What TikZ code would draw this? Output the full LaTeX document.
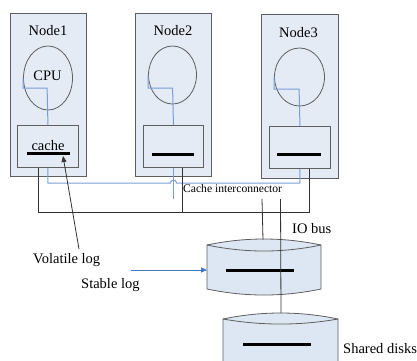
\documentclass[tikz,border=0pt]{standalone}
\usepackage{fontspec}
\setmainfont{Liberation Serif}
\newfontfamily\labelfont{Liberation Serif}
\usetikzlibrary{arrows.meta,shapes.geometric}
\definecolor{boxfill}{RGB}{229,235,245}
\definecolor{diskfill}{RGB}{221,230,243}
\definecolor{edgegray}{RGB}{95,95,95}
\definecolor{linkblue}{RGB}{120,158,215}
\definecolor{arrowblue}{RGB}{70,118,200}
\begin{document}
\begin{tikzpicture}[x=1pt,y=-1pt,
  nodebox/.style={draw=edgegray,fill=boxfill,line width=0.9pt,inner sep=0pt,anchor=north west},
  cachebox/.style={draw=edgegray,fill=boxfill,line width=0.9pt,inner sep=0pt,anchor=north west},
  cpu/.style={ellipse,draw=edgegray,line width=0.8pt,inner sep=0pt},
  lbl/.style={inner sep=0pt,font=\labelfont\fontsize{14.5}{16}\selectfont},
  small/.style={inner sep=0pt,font=\labelfont\fontsize{11.6}{13}\selectfont},
  bar/.style={line width=3pt,black},
  link/.style={draw=linkblue,line width=1pt},
  bus/.style={draw=black!80,line width=0.8pt},
  disk/.style={draw=edgegray,fill=diskfill,line width=0.8pt}]
\useasboundingbox (0,0) rectangle (417,360);

% ---- compute nodes ----
\node[nodebox,minimum width=76pt,minimum height=163pt] (n1) at (10,13) {};
\node[nodebox,minimum width=76pt,minimum height=163pt] (n2) at (135,13) {};
\node[nodebox,minimum width=77pt,minimum height=164pt] (n3) at (261,14) {};

\node[lbl,anchor=base] (t1) at (48,35) {Node1};
\node[lbl,anchor=base] (t2) at (173,35) {Node2};
\node[lbl,anchor=base] (t3) at (298.5,37.5) {Node3};

\node[cpu,minimum width=49pt,minimum height=64pt] (c1) at (48,78) {};
\node[lbl,anchor=base] (cpu) at (47.5,80) {CPU};
\node[cpu,minimum width=48pt,minimum height=58pt] (c2) at (172.5,75) {};
\node[cpu,minimum width=50pt,minimum height=58pt] (c3) at (299.5,77) {};

\node[cachebox,minimum width=61pt,minimum height=42pt] (k1) at (17,125) {};
\node[cachebox,minimum width=60pt,minimum height=42pt] (k2) at (143,125) {};
\node[cachebox,minimum width=61pt,minimum height=42pt] (k3) at (269,126) {};
\node[lbl,anchor=base] (ct) at (48,150) {cache};

\draw[bar] (27,153) -- (70,153);
\draw[bar] (152,154) -- (194,154);
\draw[bar] (277,154) -- (321,154);

% CPU to cache links
\draw[link] (c1.west) |- ++(24,10) -- (k1.north);
\draw[link] (c2.west) |- ++(24.5,13) -- (k2.north);
\draw[link] (c3.west) |- ++(25,12) -- (k3.north);

% cache interconnector (blue) with a hop over the Node2 line
\coordinate (cil) at (0,183);
\draw[link] (k1.south) |- ([xshift=-3pt]k2.south |- cil)
  arc[start angle=180,end angle=360,radius=3] -- (k3.south |- cil) -- (k3.south);
\draw[link] (k2.south) -- ++(0,31);

% IO bus (black)
\coordinate (iob) at (0,212.5);
\draw[bus] ([xshift=-9.5pt]k1.south) |- ([xshift=9.5pt]k3.south |- iob) -- ([xshift=9.5pt]k3.south);
\draw[bus] ([xshift=9pt]k2.south) -- ([xshift=9pt]k2.south |- iob);

\node[small,anchor=base west] (cit) at (183,192) {Cache interconnector};
\node[lbl,anchor=base west] (io) at (292,233) {IO bus};

% ---- shared disks ----
\draw[disk] (207,245) .. controls (245,237) and (283,237) .. (321,245) -- (321,289)
  .. controls (283,297) and (245,297) .. (207,289) -- cycle;
\draw[edgegray,line width=0.8pt] (207,245) .. controls (245,253) and (283,253) .. (321,245);
\draw[bar] (226,270) -- (294,270);

\fill[diskfill] (223,319) .. controls (261,311) and (300,311) .. (338,319) -- (338,362) -- (223,362) -- cycle;
\draw[edgegray,line width=0.8pt] (223,362) -- (223,319) .. controls (261,311) and (300,311) .. (338,319) -- (338,362);
\draw[edgegray,line width=0.8pt] (223,319) .. controls (261,325.7) and (300,325.7) .. (338,319);
\draw[bar] (243,344) -- (311,344);

\coordinate (la) at (262,199);
\coordinate (lb) at (280.5,199);
\coordinate (d1top) at (263,239.5);
\coordinate (d2top) at (281,313);
\draw[bus] (la) -- (d1top);
\draw[bus] (lb) -- (d2top);

\node[lbl,anchor=base west] (sd) at (343,353) {Shared disks};

% ---- logs ----
\node[lbl,anchor=base west] (vol) at (33,263) {Volatile log};
\node[lbl,anchor=base west] (stl) at (81,288) {Stable log};
\coordinate (voltail) at (79,249);
\coordinate (voltip) at (63,156);
\draw[bus,-{Triangle[length=6pt,width=5pt]}] (voltail) -- (voltip);
\coordinate (sttail) at (131,270);
\coordinate (sttip) at (207,270);
\draw[draw=arrowblue,line width=0.9pt,-{Triangle[length=6pt,width=5pt]},arrowblue] (sttail) -- (sttip);
\end{tikzpicture}
\end{document}
